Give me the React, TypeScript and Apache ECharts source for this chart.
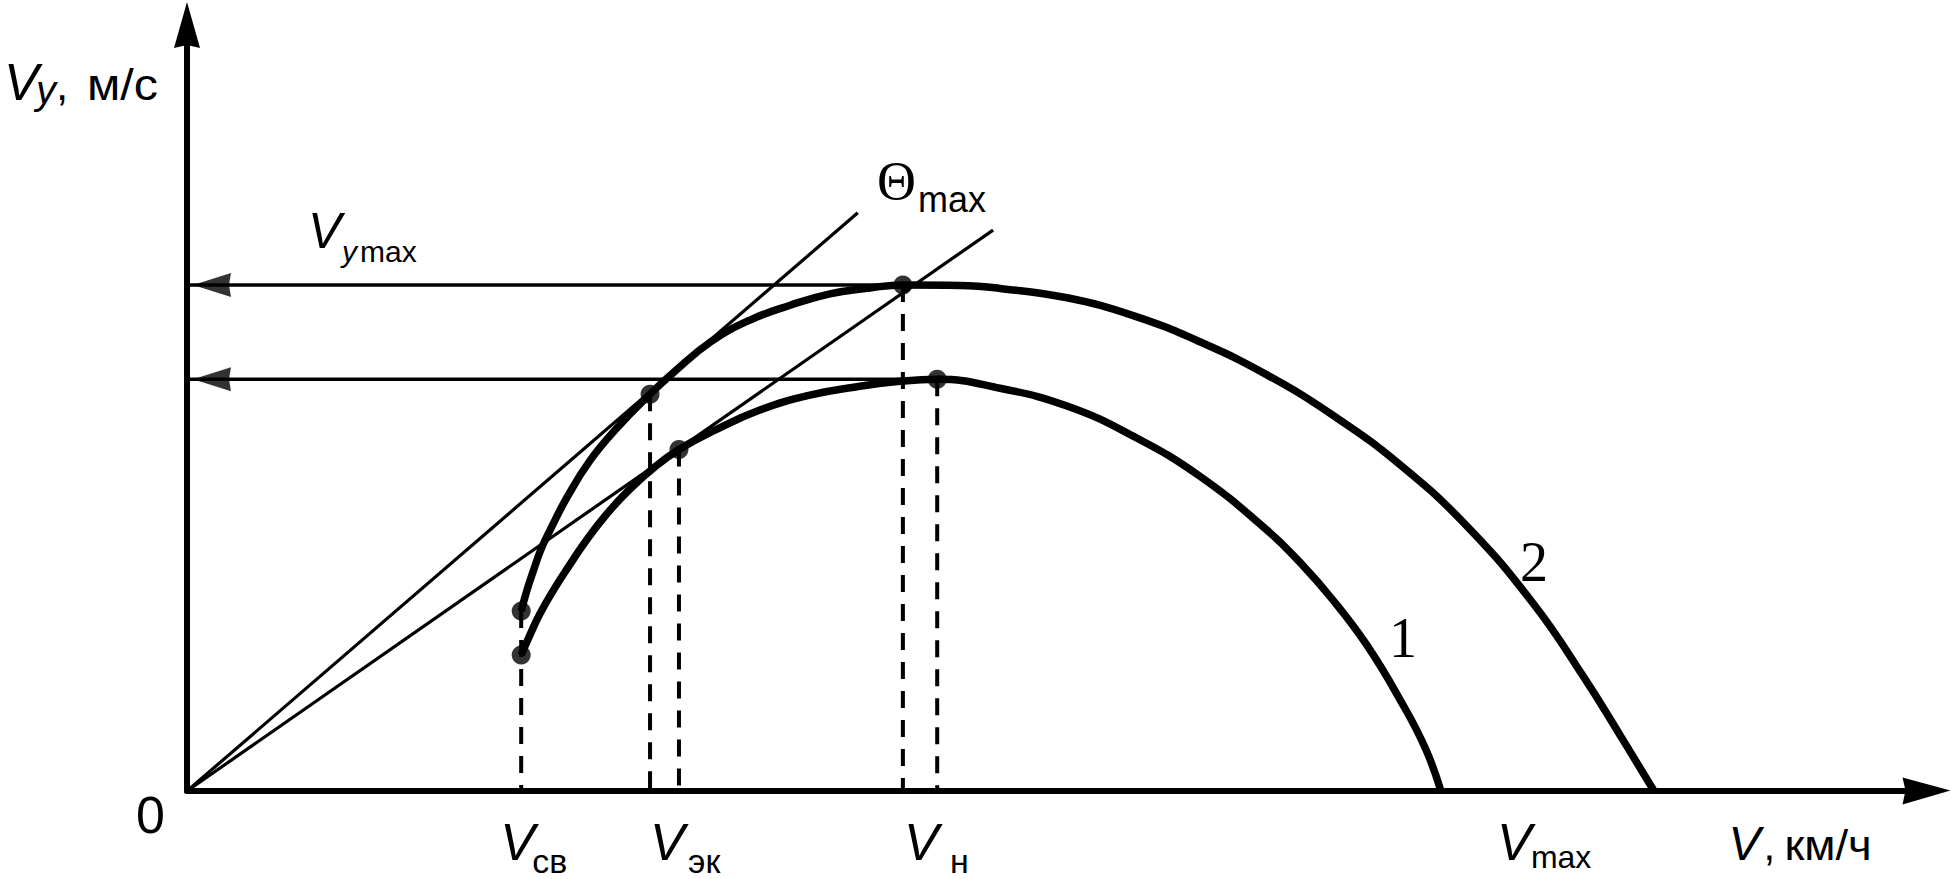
import React, { useEffect, useRef } from 'react';
import * as echarts from 'echarts';

// ---- data (V in km/h, Vy in m/s) ----
const X_MAX = 355;
const Y_MAX = 15.5;

// curve 1 (lower polar)
const curve1V = [68.2, 70.0, 72.0, 74.7, 77.8, 81.4, 85.7, 90.4, 95.5, 100.4, 107.3, 116.9, 127.1, 137.3, 145.5, 153.1, 165.9, 179.6, 193.1, 206.7, 220.4, 227.1, 233.9, 240.8, 247.6, 252.7, 255.9];
const curve1Vy = [2.75, 3.16, 3.58, 4.05, 4.53, 5.06, 5.61, 6.11, 6.56, 6.91, 7.28, 7.71, 8.01, 8.19, 8.29, 8.33, 8.15, 7.79, 7.18, 6.37, 5.28, 4.63, 3.86, 2.95, 1.84, 0.87, 0];

// curve 2 (upper polar)
const curve2V = [68.2, 69.4, 70.6, 72.2, 74.1, 77.6, 82.2, 87.8, 94.5, 99.2, 106.9, 114.9, 123.1, 131.2, 139.4, 146.1, 157.8, 165.9, 179.6, 193.1, 206.7, 220.4, 233.9, 247.6, 261.2, 274.7, 284.9, 292.4, 299.4];
const curve2Vy = [3.64, 4.07, 4.43, 4.88, 5.28, 5.95, 6.68, 7.35, 8.03, 8.46, 9.09, 9.53, 9.83, 10.06, 10.18, 10.24, 10.23, 10.17, 9.98, 9.62, 9.09, 8.42, 7.6, 6.6, 5.36, 3.8, 2.33, 1.14, 0];

// tangent lines from the origin (end points)
const tangentEndV = [136.9, 164.5];
const tangentEndVy = [11.7, 11.35];

// characteristic speeds
const V_SV = 68.2;
const V_EK = [94.5, 100.4]; // curve 2, curve 1
const V_N = [146.1, 153.1]; // curve 2, curve 1
const V_MAX = [299.4, 255.9]; // curve 2, curve 1
const VY_MAX = [10.24, 8.33]; // curve 2, curve 1
const VY_START = [3.64, 2.75]; // curve 2, curve 1
const VY_EK = [8.03, 6.91]; // curve 2, curve 1

// key points on curves
const keyPointsV = [V_SV, V_EK[0], V_N[0], V_SV, V_EK[1], V_N[1]];
const keyPointsVy = [VY_START[0], VY_EK[0], VY_MAX[0], VY_START[1], VY_EK[1], VY_MAX[1]];

// dashed verticals
const dashV = [V_SV, V_EK[0], V_EK[1], V_N[0], V_N[1]];
const dashTop = [VY_START[0], VY_EK[0], VY_EK[1], VY_MAX[0], VY_MAX[1]];

const SANS = '"Liberation Sans", Arial, Helvetica, sans-serif';
const SERIF = '"Liberation Serif", "Times New Roman", serif';

const zip = (a: number[], b: number[]) => a.map((v, i) => [v, b[i]]);

export default function App() {
  const ref = useRef<HTMLDivElement>(null);
  useEffect(() => {
    document.body.style.margin = '0';
    const chart = echarts.init(ref.current!, null, { renderer: 'svg' });
    const black = '#000';
    const series: any[] = [];

    // tangent lines
    tangentEndV.forEach((v, i) => {
      series.push({
        type: 'line', data: [[0, 0], [v, tangentEndVy[i]]], symbol: 'none', silent: true,
        lineStyle: { width: 3.2, color: black }, z: 2,
      });
    });
    // horizontal lines to Vy max
    VY_MAX.forEach((vy, i) => {
      series.push({
        type: 'line', data: [[0, vy], [V_N[i], vy]], symbol: 'none', silent: true,
        lineStyle: { width: 3.5, color: black }, z: 2,
      });
    });
    // arrow heads on the Vy axis
    series.push({
      type: 'scatter', data: VY_MAX.map((vy) => [0, vy]), silent: true,
      symbol: 'path://M0,12 L38,0 L36,12 L38,24 Z', symbolSize: [38, 24], symbolOffset: [25, 0],
      itemStyle: { color: black }, z: 4,
    });
    // dashed verticals
    dashV.forEach((v, i) => {
      series.push({
        type: 'line', data: [[v, dashTop[i]], [v, 0]], symbol: 'none', silent: true,
        lineStyle: { width: 4, color: black, type: [17, 12] }, z: 2,
      });
    });
    // curves
    [zip(curve1V, curve1Vy), zip(curve2V, curve2Vy)].forEach((d) => {
      series.push({
        type: 'line', data: d, smooth: 0.45, symbol: 'none', silent: true,
        lineStyle: { width: 7.5, color: black, cap: 'butt', join: 'round' }, z: 3,
      });
    });
    // key points
    series.push({
      type: 'scatter', data: zip(keyPointsV, keyPointsVy), symbol: 'circle', symbolSize: 19, silent: true,
      itemStyle: { color: black }, z: 5,
    });

    const axisCommon = {
      type: 'value',
      splitLine: { show: false },
      axisTick: { show: false },
      axisLabel: { show: false },
      min: 0,
    };

    chart.setOption({
      animation: false,
      backgroundColor: '#fff',
      grid: { left: 187, right: 28.5, top: 25, bottom: 88 },
      xAxis: {
        ...axisCommon, max: X_MAX,
        axisLine: {
          show: true, onZero: true,
          lineStyle: { color: black, width: 6 },
          symbol: ['none', 'path://M13,0 L27,48 L13,45 L0,48 Z'], symbolSize: [27, 48],
        },
      },
      yAxis: {
        ...axisCommon, max: Y_MAX,
        axisLine: {
          show: true,
          lineStyle: { color: black, width: 6 },
          symbol: ['none', 'path://M13,0 L26,46 L13,43 L0,46 Z'], symbolSize: [26, 46],
        },
      },
      series,
    });

    const P = (x: number, y: number) => chart.convertToPixel({ gridIndex: 0 }, [x, y]) as number[];
    const T = (text: string, x: number, base: number, size: number, opt: any = {}) => {
      const fam = opt.serif ? SERIF : SANS;
      const k = opt.serif ? 0.3375 : 0.3465;
      const align = opt.align || 'left';
      return {
        type: 'text', x, y: opt.center ? base : base - k * size, silent: true, z: 10,
        scaleX: opt.sx || 1,
        style: {
          text, font: `${opt.italic ? 'italic ' : ''}${size}px ${fam}`, fill: black,
          textAlign: align, align, textVerticalAlign: 'middle', verticalAlign: 'middle',
        },
      };
    };

    const O = P(0, 0);
    const yTop = P(0, Y_MAX);
    const xEnd = P(X_MAX, 0);
    const g: any[] = [];
    // origin
    g.push(T('0', O[0] - 22, O[1] + 42, 52, { align: 'right' }));
    // y axis name
    g.push(T('V', O[0] - 183, yTop[1] + 75, 52, { italic: true }));
    g.push(T('y', O[0] - 151, yTop[1] + 79, 40, { italic: true }));
    g.push(T(',', O[0] - 131, yTop[1] + 75, 44));
    g.push(T('м/с', O[0] - 100, yTop[1] + 75, 44, { sx: 1.1 }));
    // x axis name
    g.push(T('V', xEnd[0] - 198, O[1] + 69, 48, { italic: true }));
    g.push(T(',', xEnd[0] - 163, O[1] + 69, 42));
    g.push(T('км/ч', xEnd[0] - 142, O[1] + 69, 42, { sx: 1.08 }));
    // Vy max label
    const A = P(0, VY_MAX[0]);
    g.push(T('V', A[0] + 121, A[1] - 37, 50, { italic: true }));
    g.push(T('y', A[0] + 155, A[1] - 23, 30, { italic: true }));
    g.push(T('max', A[0] + 173, A[1] - 23, 30));
    // Theta max label
    const E = P(tangentEndV[1], tangentEndVy[1]);
    g.push(T('Θ', E[0] - 116, E[1] - 31, 54, { serif: true }));
    g.push(T('max', E[0] - 75, E[1] - 18, 36));
    // curve numbers
    const M1 = P(V_MAX[1], 0);
    const M2 = P(V_MAX[0], 0);
    g.push(T('1', M1[0] - 38, O[1] - 153, 56, { serif: true, center: true, align: 'center' }));
    g.push(T('2', M2[0] - 120, O[1] - 229, 56, { serif: true, center: true, align: 'center' }));
    // x labels
    const LB = O[1] + 69;
    const SB = O[1] + 82;
    const sv = P(V_SV, 0)[0];
    g.push(T('V', sv - 21, LB, 52, { italic: true }));
    g.push(T('св', sv + 11, SB, 34));
    const ek = P(V_EK[0], 0)[0];
    g.push(T('V', ek, LB, 52, { italic: true }));
    g.push(T('эк', ek + 38, SB, 34));
    const vn = P(V_N[0], 0)[0];
    g.push(T('V', vn + 1, LB, 52, { italic: true }));
    g.push(T('н', vn + 47, SB, 34));
    g.push(T('V', M1[0] + 56, LB, 52, { italic: true }));
    g.push(T('max', M1[0] + 90, O[1] + 77, 32));

    chart.setOption({ graphic: g });
    return () => chart.dispose();
  }, []);
  return <div ref={ref} style={{ width: 1955, height: 879 }} />;
}
